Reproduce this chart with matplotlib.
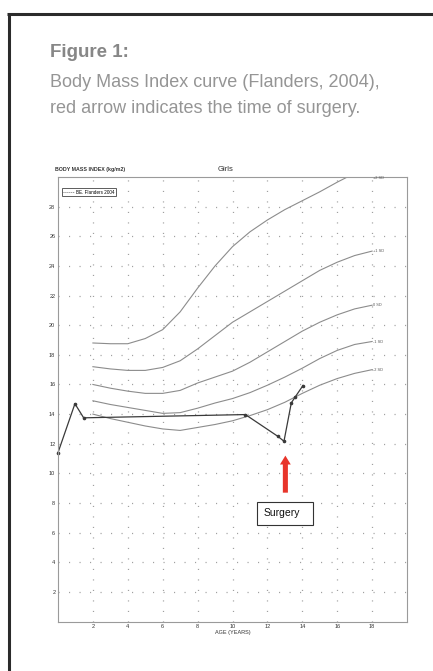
import matplotlib
matplotlib.use("Agg")
import matplotlib.pyplot as plt
from matplotlib.lines import Line2D
from matplotlib.patches import Rectangle
from matplotlib import font_manager

# ---------------- data ----------------
ages = [2, 3, 4, 5, 6, 7, 8, 9, 10, 11, 12, 13, 14, 15, 16, 17, 18]
sd_plus2 = [18.8, 18.75, 18.75, 19.1, 19.7, 20.9, 22.5, 24.0, 25.3, 26.3, 27.1, 27.8, 28.4, 29.0, 29.65, 30.25, 30.7]
sd_plus1 = [17.2, 17.05, 16.95, 16.95, 17.15, 17.6, 18.4, 19.3, 20.2, 20.9, 21.6, 22.3, 23.0, 23.7, 24.25, 24.7, 25.0]
sd_zero = [16.0, 15.75, 15.55, 15.4, 15.4, 15.6, 16.1, 16.5, 16.9, 17.5, 18.2, 18.9, 19.6, 20.2, 20.7, 21.1, 21.35]
sd_min1 = [14.9, 14.65, 14.45, 14.25, 14.05, 14.1, 14.4, 14.75, 15.05, 15.45, 15.95, 16.5, 17.1, 17.75, 18.3, 18.7, 18.9]
sd_min2 = [14.0, 13.7, 13.45, 13.2, 13.0, 12.9, 13.1, 13.3, 13.55, 13.9, 14.3, 14.8, 15.4, 15.95, 16.4, 16.75, 17.0]
sd_labels = ["+2 SD", "+1 SD", "0 SD", "-1 SD", "-2 SD"]

patient_age = [0.0, 0.97, 1.47, 10.74, 12.6, 12.95, 13.37, 13.6, 14.04]
patient_bmi = [11.4, 14.7, 13.75, 13.97, 12.5, 12.17, 14.76, 15.17, 15.93]

surgery_age = 13.03
surgery_arrow = [8.7, 11.2]

x_ticks = [2, 4, 6, 8, 10, 12, 14, 16, 18]
y_ticks = [2, 4, 6, 8, 10, 12, 14, 16, 18, 20, 22, 24, 26, 28]

# ---------------- fonts ----------------
avail = {f.name for f in font_manager.fontManager.ttflist}
head_font = "Liberation Sans Narrow" if "Liberation Sans Narrow" in avail else "Liberation Sans"
plot_font = "Liberation Sans"

fig = plt.figure(figsize=(4.33, 6.71), dpi=100)
fig.patch.set_facecolor("white")

# frame lines (top and left)
fig.add_artist(Line2D([8.5/433, 8.5/433], [0, 1 - 13/671], color="#2b2b2b", lw=2.2,
                      transform=fig.transFigure, solid_capstyle="butt"))
fig.add_artist(Line2D([7.4/433, 1], [1 - 13.8/671, 1 - 13.8/671], color="#2b2b2b", lw=2.2,
                      transform=fig.transFigure, solid_capstyle="butt"))

# header text
fig.text(50/433, 1 - 57/671, "Figure 1:", fontsize=13.5, fontweight="bold",
         color="#878787", family=head_font, ha="left", va="baseline")
fig.text(50/433, 1 - 87/671, "Body Mass Index curve (Flanders, 2004),", fontsize=13.0,
         color="#959595", family=head_font, ha="left", va="baseline")
fig.text(50/433, 1 - 113/671, "red arrow indicates the time of surgery.", fontsize=13.0,
         color="#959595", family=head_font, ha="left", va="baseline")

ax = fig.add_axes([58/433, 1 - 621.6/671, 349/433, (621.6 - 177)/671])
ax.set_xlim(0, 20)
ax.set_ylim(0, 30)
ax.set_xticks(x_ticks)
ax.set_yticks(y_ticks)
ax.tick_params(length=0, labelsize=4, colors="#333333", pad=2)
for lab in ax.get_xticklabels() + ax.get_yticklabels():
    lab.set_family(plot_font)
for s in ax.spines.values():
    s.set_color("#9a9a9a")
    s.set_linewidth(0.8)
ax.grid(True, color="#a0a0a0", linewidth=0.9, linestyle=(0, (0.9, 7.5)))
ax.set_axisbelow(True)

curves = [sd_plus2, sd_plus1, sd_zero, sd_min1, sd_min2]
for vals, lab in zip(curves, sd_labels):
    ax.plot(ages, vals, color="#8c8c8c", lw=0.8, solid_joinstyle="round")
    yl = min(vals[-1], 29.9)
    ax.text(ages[-1] + 0.05, yl, lab, fontsize=2.8, color="#555555", family=plot_font,
            ha="left", va="center")

ax.plot(patient_age, patient_bmi, color="#3a3a3a", lw=0.9, marker="o", markersize=1.6,
        clip_on=False)

ax.arrow(surgery_age, surgery_arrow[0], 0, surgery_arrow[1] - surgery_arrow[0], width=0.29,
         head_width=0.62, head_length=0.6, length_includes_head=True, color="#e8352b", lw=0)

ax.add_patch(Rectangle((11.4, 6.55), 3.2, 1.49, fc="white", ec="#333333", lw=0.8, zorder=5))
ax.text(12.84, 7.33, "Surgery", fontsize=7.5, color="#111111", family=plot_font,
        ha="center", va="center", zorder=6)

ax.set_xlabel("AGE (YEARS)", fontsize=4, family=plot_font, color="#333333", labelpad=0.5)
ax.text(-0.2, 30.35, "BODY MASS INDEX (kg/m2)", fontsize=3.8, fontweight="bold",
        family=plot_font, color="#333333", ha="left", va="bottom")
ax.text(9.6, 30.3, "Girls", fontsize=5.5, family=plot_font, color="#333333",
        ha="center", va="bottom")

proxy = Line2D([], [], color="#777777", lw=0.7, linestyle=(0, (1, 1)))
leg = ax.legend([proxy], ["BE. Flanders 2004"], loc="upper left", bbox_to_anchor=(0.011, 0.975),
                fontsize=3.3, frameon=True, fancybox=False, edgecolor="#333333",
                borderpad=0.35, handlelength=2.2, handletextpad=0.5, borderaxespad=0)
leg.get_frame().set_linewidth(0.7)
for t in leg.get_texts():
    t.set_family(plot_font)

fig.savefig("out.png", dpi=100, facecolor="white")
